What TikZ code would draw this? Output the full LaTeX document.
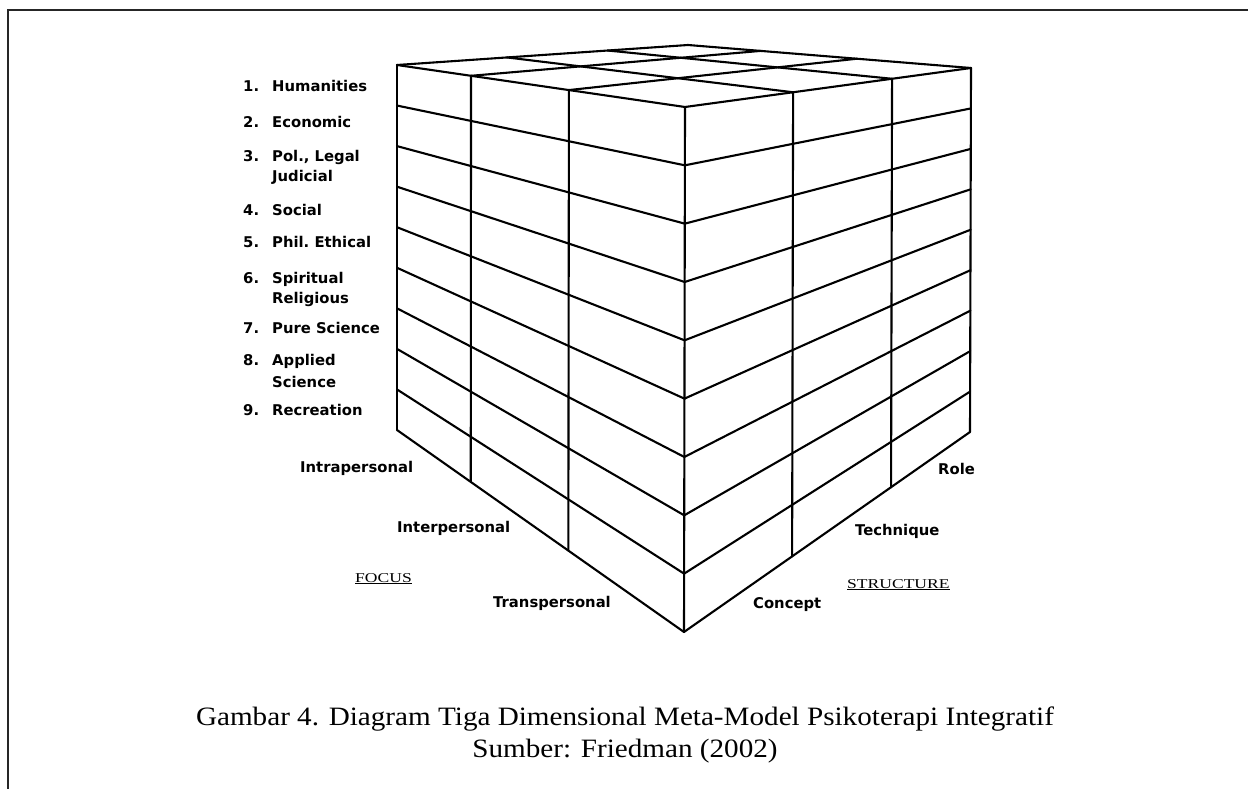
\documentclass[tikz,border=0pt]{standalone}
\usepackage{fontspec}
\usetikzlibrary{calc}
\newfontfamily\labfont{DejaVu Sans}
\newfontfamily\capfont{Liberation Serif}[FakeStretch=1.1]
\newfontfamily\axfont{Liberation Serif}[FakeStretch=1.3]
\begin{document}
\begin{tikzpicture}[x=1pt,y=-1pt,
  cube/.style={line width=2.1pt, line join=round, line cap=round},
  framebox/.style={line width=2pt, black!85},
  lab/.style={anchor=base west, inner sep=0pt, font=\labfont\bfseries\fontsize{14.8}{17}\selectfont},
  axislab/.style={anchor=base west, inner sep=0pt, font=\axfont\fontsize{13.5}{15}\selectfont},
  captext/.style={anchor=base, inner sep=0pt, font=\capfont\fontsize{26.5}{31}\selectfont}]
\useasboundingbox (0,0) rectangle (1248,789);
\fill[white] (0,0) rectangle (1248,789);
\draw[framebox] (1248,10) -- (8,10) -- (8,789);
% cube corners
\coordinate (L0) at (397,65);  \coordinate (L9) at (397,430);
\coordinate (F0) at (685,107); \coordinate (F9) at (684,632);
\coordinate (R0) at (971,68);  \coordinate (R9) at (970,432);
\coordinate (B)  at (688,45);
% layers
\foreach \i in {0,...,9}
  \draw[cube] ($(L0)!\i/9!(L9)$) -- ($(F0)!\i/9!(F9)$) -- ($(R0)!\i/9!(R9)$);
% vertical edges
\draw[cube] (L0) -- (L9);
\draw[cube] (F0) -- (F9);
\draw[cube] (R0) -- (R9);
\foreach \t in {0.257,0.597}
  \draw[cube] ($(L0)!\t!(F0)$) -- ($(L9)!\t!(F9)$);
\foreach \t in {0.378,0.724}
  \draw[cube] ($(F0)!\t!(R0)$) -- ($(F9)!\t!(R9)$);
% top face
\draw[cube] (L0) -- (B) -- (R0);
\foreach \t in {0.257,0.597}
  \draw[cube] ($(L0)!\t!(F0)$) -- ($(B)!\t!(R0)$);
\foreach \t in {0.378,0.724}
  \draw[cube] ($(L0)!\t!(B)$) -- ($(F0)!\t!(R0)$);
% left labels
\node[lab] (n1) at (243,92) {1.};  \node[lab] (t1) at (272,92) {Humanities};
\node[lab] (n2) at (243,128) {2.}; \node[lab] (t2) at (272,128) {Economic};
\node[lab] (n3) at (243,162) {3.}; \node[lab] (t3) at (272,162) {Pol., Legal};
\node[lab] (t3b) at (272,182) {Judicial};
\node[lab] (n4) at (243,215) {4.}; \node[lab] (t4) at (272,215) {Social};
\node[lab] (n5) at (243,247) {5.}; \node[lab] (t5) at (272,247) {Phil.\ Ethical};
\node[lab] (n6) at (243,283) {6.}; \node[lab] (t6) at (272,283) {Spiritual};
\node[lab] (t6b) at (272,303) {Religious};
\node[lab] (n7) at (243,333) {7.}; \node[lab] (t7) at (272,333) {Pure Science};
\node[lab] (n8) at (243,365) {8.}; \node[lab] (t8) at (272,365) {Applied};
\node[lab] (t8b) at (272,387) {Science};
\node[lab] (n9) at (243,415) {9.}; \node[lab] (t9) at (272,415) {Recreation};
% focus labels
\node[lab] (intra) at (300,472) {Intrapersonal};
\node[lab] (inter) at (397,532) {Interpersonal};
\node[lab] (trans) at (493,607) {Transpersonal};
\node[axislab] (focus) at (355,582) {\underline{FOCUS}};
% structure labels
\node[lab] (role) at (938,474) {Role};
\node[lab] (tech) at (855,535) {Technique};
\node[lab] (conc) at (753,608) {Concept};
\node[axislab] (struct) at (847,588) {\underline{STRUCTURE}};
% caption
\node[captext] (c1) at (625,725) {Gambar 4. Diagram Tiga Dimensional Meta-Model Psikoterapi Integratif};
\node[captext] (c2) at (625,757) {Sumber: Friedman (2002)};
\end{tikzpicture}
\end{document}
